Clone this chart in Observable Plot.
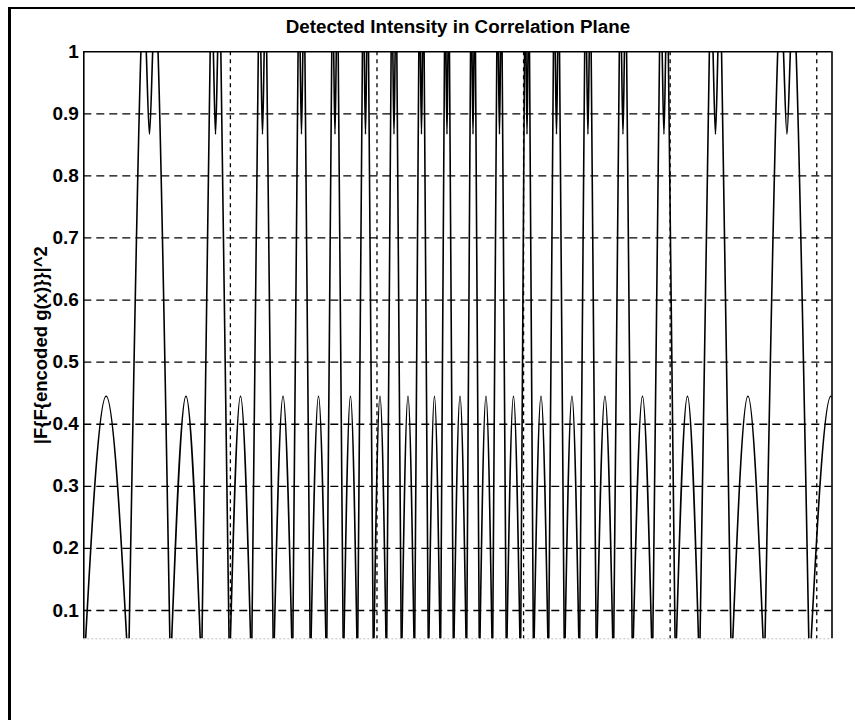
<!DOCTYPE html>
<html><head><meta charset="utf-8">
<script src="https://cdn.jsdelivr.net/npm/d3@7"></script>
<script src="https://cdn.jsdelivr.net/npm/@observablehq/plot@0.6"></script>
<style>
html,body{margin:0;padding:0;background:#fff;overflow:hidden;width:855px;height:720px;}
#wrap{position:relative;width:855px;height:720px;overflow:hidden;}
#border{position:absolute;left:8px;top:7px;width:900px;height:800px;border-left:3px solid #000;border-top:2px solid #000;pointer-events:none;}
</style></head><body><div id="wrap"><div id="chart"></div><div id="border"></div></div>
<script>
// Text
const title = "Detected Intensity in Correlation Plane";
const yLabel = "|F{F{encoded g(x)}}|^2";

// Axes
const xDomain = [0, 510.4];
const yDomain = [0.0544, 1];
const xGrid = [100, 200, 300, 400, 500];
const yTicks = [0.1, 0.2, 0.3, 0.4, 0.5, 0.6, 0.7, 0.8, 0.9, 1];

// Zero crossings of the intensity pattern (x units)
const zeroCrossings = [0, 30.5, 59.1, 80.3, 99.4, 114.4, 129.4, 142.4, 154.6, 165.6,
  177.1, 186.7, 197.6, 206.5, 216.7, 225.6, 235.1, 243.3, 252.2, 261.1,
  269.9, 278.8, 288.3, 297.9, 306.8, 317.0, 327.9, 338.1, 349.7, 361.3,
  374.3, 387.9, 403.6, 420.0, 441.8, 464.3, 495.0, 524.3];

// Lobe kinds between successive zeros
const lobeKind = ["small","tall","small","tall","small","tall","small","tall","small","tall",
  "small","tall","small","tall","small","tall","small","tall","small","tall",
  "small","tall","small","tall","small","tall","small","tall","small","tall",
  "small","tall","small","tall","small","tall","small"];

// Small lobes: peak value; tall lobes: central dip value
const lobePeak = [0.445,0.867,0.445,0.867,0.445,0.867,0.445,0.867,0.445,0.867,
  0.445,0.867,0.445,0.867,0.445,0.867,0.445,0.867,0.445,0.867,
  0.445,0.867,0.445,0.867,0.445,0.867,0.445,0.867,0.445,0.867,
  0.445,0.867,0.445,0.867,0.445,0.867,0.445];

// Tall lobes: twin humps rising just above the top of the axes
const humpPeak = 1.05;
const humpFrac = 0.35;

const pts = [];
lobeKind.forEach((k, i) => {
  const a = zeroCrossings[i], b = zeroCrossings[i + 1], c = (a + b) / 2, hw = (b - a) / 2;
  if (k === "small") {
    pts.push({lobe: i, x: a, y: 0}, {lobe: i, x: c, y: lobePeak[i]}, {lobe: i, x: b, y: 0});
  } else {
    pts.push({lobe: i, x: a, y: 0},
             {lobe: i, x: c - humpFrac * hw, y: humpPeak},
             {lobe: i, x: c, y: lobePeak[i]},
             {lobe: i, x: c + humpFrac * hw, y: humpPeak},
             {lobe: i, x: b, y: 0});
  }
});

const chart = Plot.plot({
  width: 855, height: 720,
  marginLeft: 83.3, marginRight: 23.5, marginTop: 51.2, marginBottom: 81.7,
  style: {fontFamily: "'Liberation Sans', Arial, sans-serif", fontSize: "19px", fontWeight: "bold", color: "#000", background: "#fff"},
  x: {domain: xDomain, axis: null},
  y: {domain: yDomain, axis: null},
  marks: [
    Plot.ruleY(yTicks.filter(d => d < 1), {stroke: "#000", strokeWidth: 1.3, strokeDasharray: "8,5"}),
    Plot.ruleX(xGrid, {stroke: "#000", strokeWidth: 1.3, strokeDasharray: "4,4"}),
    Plot.line(pts, {x: "x", y: "y", z: "lobe", curve: "natural", clip: true, stroke: "#000", strokeWidth: 1.6}),
    Plot.ruleX(xDomain, {stroke: "#000", strokeWidth: 1.6}),
    Plot.ruleY([yDomain[1]], {stroke: "#000", strokeWidth: 1.6}),
    Plot.ruleY([yDomain[0]], {stroke: "#000", strokeWidth: 1, strokeOpacity: 0.25, strokeDasharray: "2,2"}),
    Plot.axisY({ticks: yTicks, tickSize: 0, tickPadding: 5, label: null, tickFormat: d => String(d), fontSize: 19, fontWeight: "bold"}),
    Plot.text([title], {frameAnchor: "top", lineAnchor: "middle", textAnchor: "middle", dy: -25, fontSize: 18.8, fontWeight: "bold"}),
    Plot.text([yLabel], {frameAnchor: "left", rotate: -90, lineAnchor: "middle", textAnchor: "middle", dx: -43, fontSize: 18.5, fontWeight: "bold"})
  ]
});
document.getElementById("chart").appendChild(chart);
</script></body></html>
